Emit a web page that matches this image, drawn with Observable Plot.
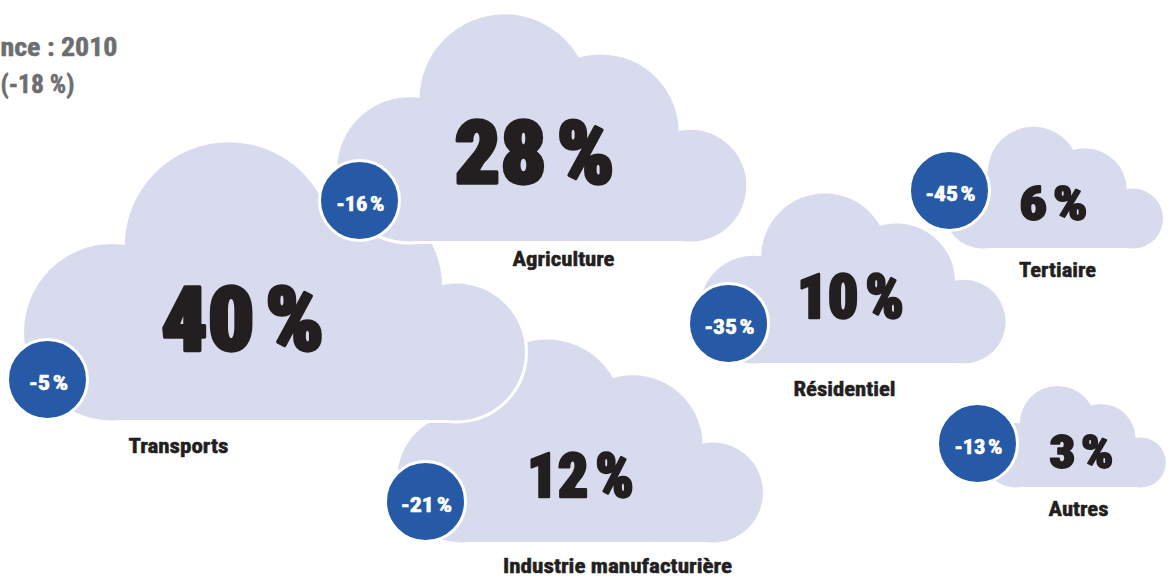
<!DOCTYPE html>
<html>
<head>
<meta charset="utf-8">
<script src="https://cdn.jsdelivr.net/npm/d3@7"></script>
<script src="https://cdn.jsdelivr.net/npm/@observablehq/plot@0.6"></script>
<style>
  html, body { margin: 0; padding: 0; background: #ffffff; }
  #chart { width: 1171px; height: 577px; overflow: hidden; }
</style>
</head>
<body>
<div id="chart"></div>
<script>
// ---------- DATA ----------
const sectors = ["Transports", "Agriculture", "Industrie manufacturière", "Résidentiel", "Tertiaire", "Autres"];
const shares = [40, 28, 12, 10, 6, 3];          // share of emissions (%)
const changes = [-5, -16, -21, -35, -45, -13];  // change since reference (%)
const titleLines = ["nce : 2010", "(-18 %)"];

// ---------- LAYOUT (pixels) ----------
const cloudLeft   = [25, 338, 398, 700, 944, 983];
const cloudBottom = [420, 241, 542, 363, 248, 487];
const cloudWidth  = [496, 405, 362, 303, 217, 181];
const drawOrder   = [2, 0, 1, 3, 4, 5];
const badgeX = [47, 359, 425, 728, 949, 977];
const badgeY = [379, 200, 501, 323, 190, 443];
const shareX = [242, 534, 580, 850, 1053, 1081];
const shareY = [349, 182, 496, 317, 219, 467];
const shareSize = [89, 88, 61, 61, 48, 46];
const shareW = [163, 160, 107, 107, 68, 64];
const labelX = [178, 563, 617, 844, 1057, 1078];
const labelY = [452, 265, 572, 395, 276, 515];
const labelW = [100, 102, 229, 102, 77, 60];
const badgeW = [39, 48, 51, 50, 50, 48];
// cloud template (units of cloud width; y upward negative from bottom)
const bumpCx = [0.175, 0.410, 0.647, 0.869];
const bumpCy = [-0.178, -0.351, -0.269, -0.138];
const bumpR  = [0.178, 0.210, 0.193, 0.138];

const cloudFill = "#d8dbed";
const blue = "#265aa6";
const dark = "#231f20";
const grey = "#6d6e71";
const font = "'Liberation Sans Narrow', 'Roboto Condensed', 'DejaVu Sans Condensed', Roboto, sans-serif";
const pct = v => `${v}\u202f%`;

const marks = [];
for (const i of drawOrder) {
  const L = cloudLeft[i], B = cloudBottom[i], W = cloudWidth[i];
  const bumps = bumpCx.map((cx, k) => ({x: L + cx * W, y: B + bumpCy[k] * W, r: bumpR[k] * W}));
  const base = [{x1: L + bumpCx[0] * W, x2: L + bumpCx[3] * W, y1: B - 0.25 * W, y2: B}];
  marks.push(Plot.rect(base, {x1: "x1", x2: "x2", y1: "y1", y2: "y2", fill: "white", stroke: "white", strokeWidth: 6}));
  marks.push(Plot.dot(bumps, {x: "x", y: "y", r: "r", fill: "white", stroke: "white", strokeWidth: 6}));
  marks.push(Plot.rect(base, {x1: "x1", x2: "x2", y1: "y1", y2: "y2", fill: cloudFill}));
  marks.push(Plot.dot(bumps, {x: "x", y: "y", r: "r", fill: cloudFill}));
}

const rows = sectors.map((s, i) => ({
  sector: s, share: pct(shares[i]), change: pct(changes[i]),
  bx: badgeX[i], by: badgeY[i], sx: shareX[i], sy: shareY[i], size: shareSize[i],
  lx: labelX[i], ly: labelY[i]
}));

// badges
marks.push(Plot.dot(rows, {x: "bx", y: "by", r: 40, fill: blue, stroke: "white", strokeWidth: 3}));
marks.push(Plot.text(rows, {x: d => d.bx + 1, y: d => d.by + 10, text: "change", fill: "white",
  stroke: "white", strokeWidth: 0.6,
  fontFamily: font, fontWeight: "bold", fontSize: 21, lineAnchor: "bottom"}));
// big shares
for (const size of [...new Set(shareSize)]) {
  marks.push(Plot.text(rows.filter(d => d.size === size), {x: "sx", y: "sy", text: "share", fill: dark,
    stroke: dark, strokeWidth: size / 26, strokeLinejoin: "round",
    fontFamily: font, fontWeight: 900, fontSize: size, lineAnchor: "bottom"}));
}
// labels
marks.push(Plot.text(rows, {x: "lx", y: "ly", text: "sector", fill: dark,
  stroke: dark, strokeWidth: 0.5,
  fontFamily: font, fontWeight: "bold", fontSize: 21, lineAnchor: "bottom"}));
// title (cropped in reference)
marks.push(Plot.text([titleLines[0]], {x: () => 0, y: () => 55, text: d => d, fill: grey, textAnchor: "start",
  stroke: grey, strokeWidth: 0.5,
  fontFamily: font, fontWeight: "bold", fontSize: 25, lineAnchor: "bottom"}));
marks.push(Plot.text([titleLines[1]], {x: () => 0, y: () => 92, text: d => d, fill: grey, textAnchor: "start",
  stroke: grey, strokeWidth: 0.5,
  fontFamily: font, fontWeight: "bold", fontSize: 25, lineAnchor: "bottom"}));

const svg = Plot.plot({
  width: 1171, height: 577,
  marginTop: 0, marginRight: 0, marginBottom: 0, marginLeft: 0,
  x: {domain: [0, 1171], range: [0, 1171], axis: null},
  y: {domain: [0, 577], range: [0, 577], axis: null},
  r: {type: "identity"},
  style: {background: "white", overflow: "hidden"},
  marks
});

// fit condensed widths as measured in the reference
const widths = new Map();
rows.forEach((d, i) => {
  widths.set(d.share, shareW[i]);
  widths.set(d.sector, labelW[i]);
  widths.set(d.change, badgeW[i]);
});
widths.set(titleLines[0], 117);
widths.set(titleLines[1], 74);
d3.select(svg).selectAll("text").each(function () {
  const w = widths.get(this.textContent);
  if (w) {
    this.setAttribute("textLength", w);
    this.setAttribute("lengthAdjust", "spacingAndGlyphs");
  }
});

document.getElementById("chart").appendChild(svg);
</script>
</body>
</html>
